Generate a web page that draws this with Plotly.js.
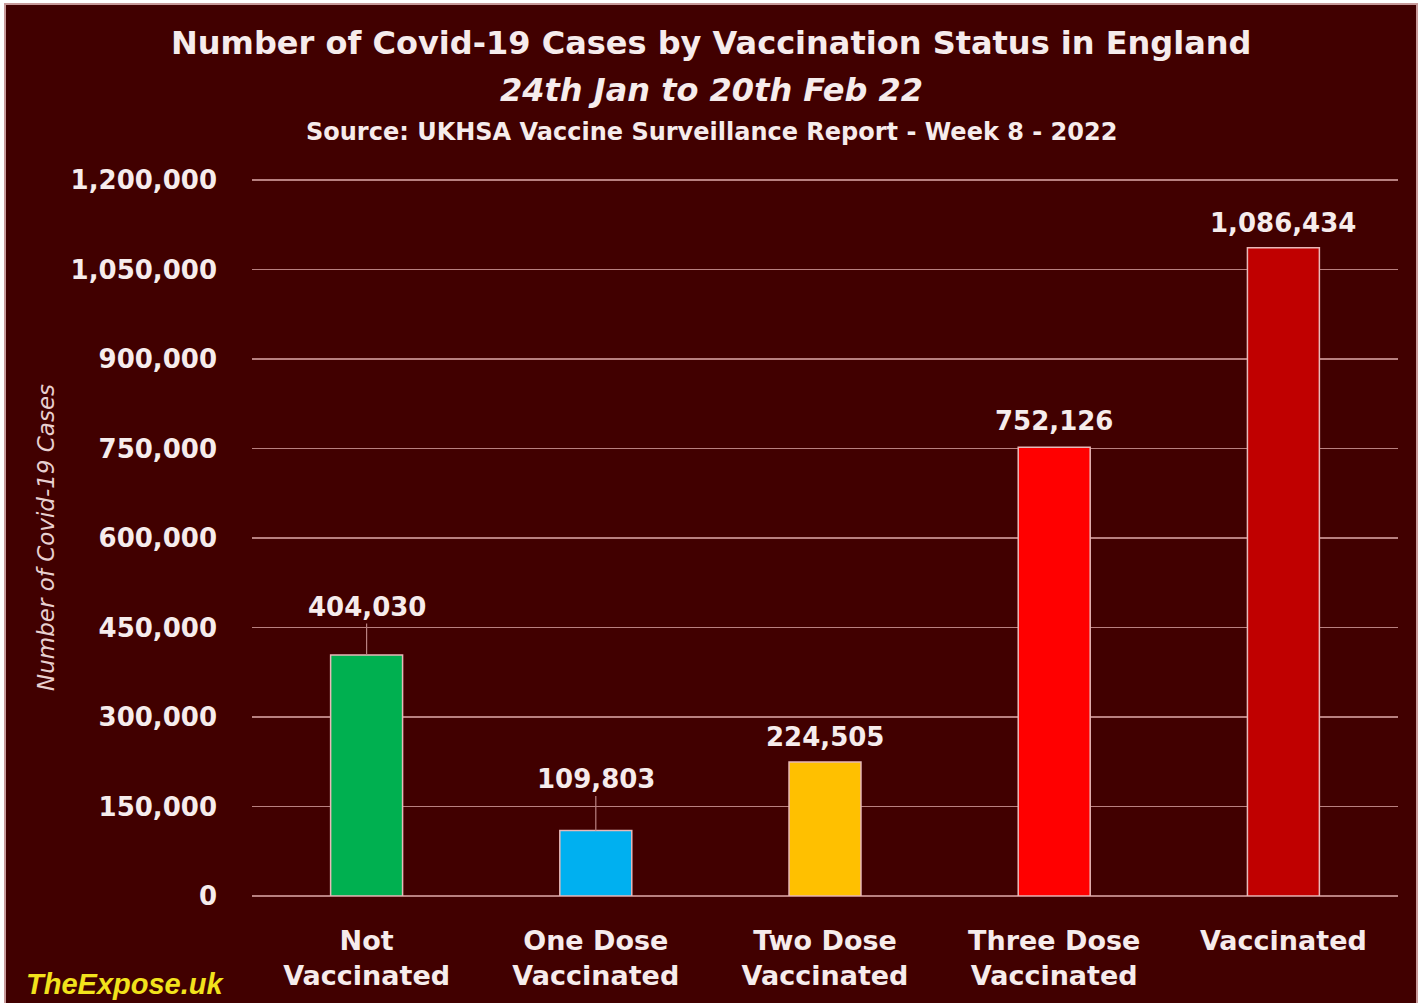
<!DOCTYPE html>
<html>
<head>
<meta charset="utf-8">
<script src="https://cdn.plot.ly/plotly-3.0.1.min.js"></script>
<style>
  html, body { margin: 0; padding: 0; background: #ffffff; width: 1422px; height: 1003px; overflow: hidden; }
  #chart { position: absolute; left: 4px; top: 3px; width: 1410px; height: 998px;
           border: 2px solid #c89a9a; border-bottom: none; }
</style>
</head>
<body>
<div id="chart"></div>
<script>
// ---- data ----
const categories = ["Not<br>Vaccinated", "One Dose<br>Vaccinated", "Two Dose<br>Vaccinated", "Three Dose<br>Vaccinated", "Vaccinated"];
const cases = [404030, 109803, 224505, 752126, 1086434];
const barColors = ["#00b050", "#00b0f0", "#ffc000", "#ff0000", "#c00000"];
const yTicks = [0, 150000, 300000, 450000, 600000, 750000, 900000, 1050000, 1200000];

const titleText = "Number of Covid-19 Cases by Vaccination Status in England";
const subtitleText = "24th Jan to 20th Feb 22";
const sourceText = "Source: UKHSA Vaccine Surveillance Report - Week 8 - 2022";
const yTitleText = "Number of Covid-19 Cases";
const watermarkText = "TheExpose.uk";

// ---- style ----
const BG = "#410000";
const TXT = "#f6ecec";
const GRID = "#b88080";
const FONT = "'DejaVu Sans', sans-serif";
const labelOffsets = [-48, -51, -25, -26, -25];
const leaderLines = [true, true, false, false, false];

const fmt = v => v.toLocaleString("en-US");

const trace = {
  type: "bar",
  x: categories,
  y: cases,
  marker: { color: barColors, line: { color: "#e8b8b8", width: 1.5 } },
  hoverinfo: "skip"
};

// plot area: top 172, bottom 891 (height 719) in the chart div
const PT = 172, PH = 719;
const py = divY => 1 + (PT - divY) / PH;   // div pixel y -> paper y
const PL = 246, PW = 1146;
const px = divX => (divX - PL) / PW;

const annotations = [];
cases.forEach((v, i) => {
  annotations.push({
    x: categories[i], y: v, xref: "x", yref: "y",
    text: "<b>" + fmt(v) + "</b>",
    showarrow: true, arrowhead: 0, arrowwidth: 1.2,
    arrowcolor: leaderLines[i] ? GRID : "rgba(0,0,0,0)",
    ax: 0, ay: labelOffsets[i], standoff: 0,
    font: { family: FONT, size: 26, color: TXT }
  });
});

annotations.push({
  xref: "paper", yref: "paper", x: px(705), y: py(38), xanchor: "center", yanchor: "middle",
  text: "<b>" + titleText + "</b>", showarrow: false,
  font: { family: FONT, size: 32, color: TXT }
});
annotations.push({
  xref: "paper", yref: "paper", x: px(705), y: py(85), xanchor: "center", yanchor: "middle",
  text: "<b><i>" + subtitleText + "</i></b>", showarrow: false,
  font: { family: FONT, size: 32, color: TXT }
});
annotations.push({
  xref: "paper", yref: "paper", x: px(705), y: py(127), xanchor: "center", yanchor: "middle",
  text: "<b>" + sourceText + "</b>", showarrow: false,
  font: { family: FONT, size: 24, color: TXT }
});
annotations.push({
  xref: "paper", yref: "paper", x: px(40), y: py(533), xanchor: "center", yanchor: "middle",
  text: "<i>" + yTitleText + "</i>", showarrow: false, textangle: -90,
  font: { family: FONT, size: 23, color: "#e8d0d0" }
});
annotations.push({
  xref: "paper", yref: "paper", x: px(18), y: py(979), xanchor: "left", yanchor: "middle",
  text: "<b><i>" + watermarkText + "</i></b>", showarrow: false,
  font: { family: "'Liberation Sans', Arial, sans-serif", size: 29, color: "#f2e21c" }
});

const layout = {
  width: 1410, height: 998,
  paper_bgcolor: BG, plot_bgcolor: BG,
  margin: { l: PL, r: 1410 - PL - PW, t: PT, b: 998 - PT - PH },
  showlegend: false,
  bargap: 0.686,
  xaxis: {
    type: "category",
    showgrid: false, showline: false, zeroline: false,
    ticks: "", ticklabelstandoff: 26,
    tickfont: { family: FONT, size: 27, color: TXT, weight: "bold" }
  },
  yaxis: {
    range: [0, 1205000],
    tickvals: yTicks, ticktext: yTicks.map(fmt),
    showgrid: true, gridcolor: GRID, gridwidth: 1.2,
    zeroline: true, zerolinecolor: GRID, zerolinewidth: 1.2,
    showline: false, ticks: "", ticklabelstandoff: 34,
    tickfont: { family: FONT, size: 26, color: TXT, weight: "bold" }
  },
  annotations: annotations
};

Plotly.newPlot("chart", [trace], layout, { displayModeBar: false, staticPlot: true });
</script>
</body>
</html>
